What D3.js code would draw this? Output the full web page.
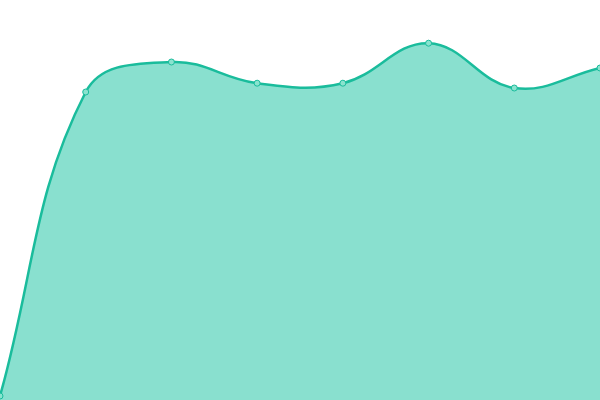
<!DOCTYPE html>
<html>
<head>
<meta charset="utf-8">
<script src="https://cdn.jsdelivr.net/npm/d3@7"></script>
<style>
  html, body { margin: 0; padding: 0; background: #fff; }
  svg { display: block; }
</style>
</head>
<body>
<svg id="chart" width="600" height="400"></svg>
<script>
// values
const categories = ['1', '2', '3', '4', '5', '6', '7', '8'];
const values = [1, 77, 84.5, 79.2, 79.2, 89.2, 78, 83];

const width = 600;
const height = 400;
const tension = 0.4;
const svg = d3.select('#chart');

const x = d3.scalePoint().domain(categories).range([0, width]);
const y = d3.scaleLinear().domain([0, 100]).range([height, 0]);

// spline where each control point is scaled by the neighbouring segment lengths
function TensionSpline(context) { this._context = context; }
TensionSpline.prototype = {
  areaStart() { this._line = 0; },
  areaEnd() { this._line = NaN; },
  lineStart() { this._pts = []; },
  point(px, py) { this._pts.push([+px, +py]); },
  lineEnd() {
    const p = this._pts;
    const ctx = this._context;
    const n = p.length;
    if (n) {
      if (this._line) ctx.lineTo(p[0][0], p[0][1]);
      else ctx.moveTo(p[0][0], p[0][1]);
      const cps = p.map((cur, i) => {
        const prev = p[Math.max(0, i - 1)];
        const next = p[Math.min(n - 1, i + 1)];
        const d01 = Math.hypot(cur[0] - prev[0], cur[1] - prev[1]);
        const d12 = Math.hypot(next[0] - cur[0], next[1] - cur[1]);
        let s01 = d01 / (d01 + d12);
        let s12 = d12 / (d01 + d12);
        if (isNaN(s01)) s01 = 0;
        if (isNaN(s12)) s12 = 0;
        const fa = tension * s01;
        const fb = tension * s12;
        const dx = next[0] - prev[0];
        const dy = next[1] - prev[1];
        const clampX = (v) => Math.max(0, Math.min(width, v));
        const clampY = (v) => Math.max(0, Math.min(height, v));
        return {
          before: [clampX(cur[0] - fa * dx), clampY(cur[1] - fa * dy)],
          after: [clampX(cur[0] + fb * dx), clampY(cur[1] + fb * dy)]
        };
      });
      for (let i = 1; i < n; i++) {
        const a = cps[i - 1].after;
        const b = cps[i].before;
        ctx.bezierCurveTo(a[0], a[1], b[0], b[1], p[i][0], p[i][1]);
      }
    }
    if (this._line || (this._line !== 0 && n === 1)) ctx.closePath();
    this._line = 1 - this._line;
  }
};
const curve = (context) => new TensionSpline(context);

const points = categories.map((c, i) => ({ c, v: values[i] }));

const area = d3.area().x((d) => x(d.c)).y0(height).y1((d) => y(d.v)).curve(curve);
const line = d3.line().x((d) => x(d.c)).y((d) => y(d.v)).curve(curve);

svg.append('path').datum(points).attr('d', area).attr('fill', '#89e0cf');
svg.append('path').datum(points).attr('d', line)
  .attr('fill', 'none').attr('stroke', '#1abc9c').attr('stroke-width', 2.5);
svg.selectAll('circle').data(points).join('circle')
  .attr('cx', (d) => x(d.c)).attr('cy', (d) => y(d.v)).attr('r', 3)
  .attr('fill', '#8ae3cf').attr('stroke', '#1abc9c').attr('stroke-width', 1);
</script>
</body>
</html>
